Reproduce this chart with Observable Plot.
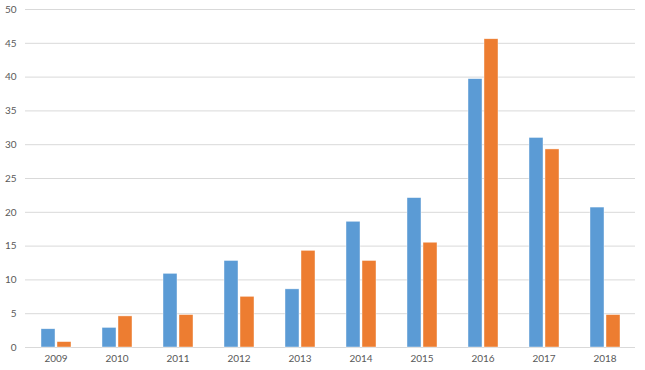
<!DOCTYPE html>
<html>
<head>
<meta charset="utf-8">
<script src="https://cdn.jsdelivr.net/npm/d3@7"></script>
<script src="https://cdn.jsdelivr.net/npm/@observablehq/plot@0.6"></script>
<style>
  body { margin: 0; background: #fff; }
  #chart { width: 645px; height: 370px; }
</style>
</head>
<body>
<div id="chart"></div>
<script>
const years = ["2009","2010","2011","2012","2013","2014","2015","2016","2017","2018"];
const seriesNames = ["Series 1","Series 2"];
const series1 = [2.7, 2.9, 10.9, 12.8, 8.6, 18.6, 22.1, 39.7, 31.0, 20.7];
const series2 = [0.8, 4.6, 4.8, 7.5, 14.3, 12.8, 15.5, 45.6, 29.3, 4.8];
const yTicks = [0, 5, 10, 15, 20, 25, 30, 35, 40, 45, 50];
const colors = ["#5B9BD5", "#ED7D31"];

const data = [];
years.forEach((y, i) => {
  data.push({year: y, series: seriesNames[0], value: series1[i]});
  data.push({year: y, series: seriesNames[1], value: series2[i]});
});

const chart = Plot.plot({
  width: 645,
  height: 370,
  marginLeft: 22,
  marginRight: 8,
  marginTop: 9,
  marginBottom: 23,
  style: {fontFamily: "Lato, 'Open Sans', sans-serif", fontSize: "10px", color: "#595959", background: "#fff"},
  fx: {domain: years, paddingInner: 0, paddingOuter: 0, label: null, axis: null},
  x: {domain: seriesNames, paddingInner: 0.15, paddingOuter: 0.88, axis: null},
  y: {domain: [0, 50], axis: null},
  color: {domain: seriesNames, range: colors},
  marks: [
    Plot.ruleY(yTicks, {stroke: "#d9d9d9", strokeWidth: 1}),
    Plot.barY(data, {fx: "year", x: "series", y: "value", fill: "series", stroke: "white", strokeWidth: 0.6, strokeOpacity: 0.7}),
    Plot.axisY(yTicks, {tickSize: 0, tickPadding: 9, fill: "#595959", fontSize: 10, label: null}),
    Plot.axisFx({anchor: "bottom", tickSize: 0, tickPadding: 7, fill: "#595959", fontSize: 10, label: null})
  ]
});
document.getElementById("chart").append(chart);
</script>
</body>
</html>
